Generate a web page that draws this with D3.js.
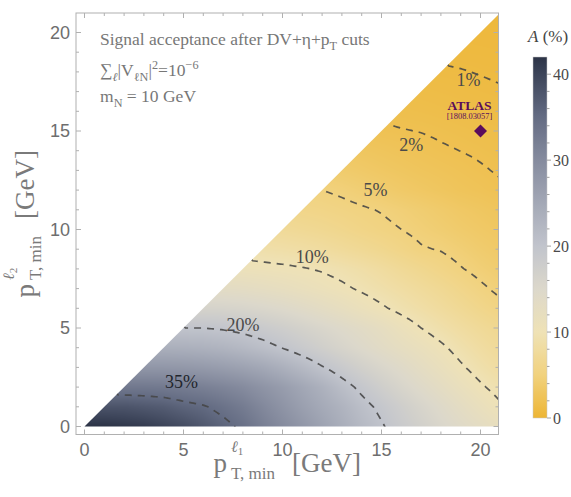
<!DOCTYPE html>
<html>
<head>
<meta charset="utf-8">
<script src="https://cdn.jsdelivr.net/npm/d3@7"></script>
<style>
  body { margin: 0; background: #fff; }
  svg { display: block; }
</style>
</head>
<body>
<svg id="chart" width="571" height="497"></svg>
<script>
// Signal acceptance A (%) on a 1 GeV grid.
// Row j holds pT2_min = j GeV, its entries run over pT1_min = j .. 21 GeV.
const acceptanceRows = [
  [42, 42, 41.5, 41, 40, 39, 37.5, 36, 34.3, 32, 30, 28, 26, 24, 22, 20.3, 18.5, 17, 15.5, 14.2, 13, 11.8],
  [38, 38, 37.5, 37, 36, 35.3, 34, 32.5, 30.5, 28.5, 26.5, 24.7, 23, 21, 19.3, 17.6, 16, 14.5, 13, 11.6, 10.3],
  [33, 33, 32.8, 32.4, 31.8, 31, 30, 28.5, 27, 25.2, 23.4, 21.2, 19.3, 17.5, 15.9, 14.4, 13, 11.6, 10.3, 9.2],
  [28, 28, 27.8, 27.4, 26.8, 26, 25, 23.6, 22, 20.2, 18.6, 17, 15.6, 14.3, 12.9, 11.6, 10.3, 9.1, 8.1],
  [23.7, 23.6, 23.3, 22.8, 22, 21, 19.9, 18.6, 17.3, 16, 14.8, 13.6, 12.5, 11.5, 10.4, 9.2, 8.2, 7.3],
  [20, 20, 19.7, 19.2, 18.5, 17.6, 16.6, 15.6, 14.6, 13.6, 12.5, 11.2, 10, 9, 8.1, 7.3, 6.6],
  [16.3, 16.2, 15.9, 15.4, 14.8, 14, 13.1, 12.2, 11.2, 10.3, 9.4, 8.6, 7.8, 7, 6.2, 5.45],
  [13.3, 13.1, 12.7, 12.2, 11.6, 11, 10.4, 9.7, 9, 8.3, 7.6, 6.9, 6.1, 5.3, 4.6],
  [10.8, 10.6, 10.4, 10.15, 9.8, 9.3, 8.7, 8.0, 7.2, 6.5, 5.8, 5.1, 4.5, 4.0],
  [8.9, 8.7, 8.4, 8.0, 7.5, 7.0, 6.45, 5.8, 5.15, 4.9, 4.4, 3.9, 3.5],
  [7.3, 7.0, 6.7, 6.3, 5.8, 5.4, 5.0, 4.55, 4.15, 3.75, 3.4, 3.1],
  [6.0, 5.8, 5.5, 5.2, 4.9, 4.5, 4.1, 3.7, 3.3, 3.0, 2.7],
  [5.0, 4.7, 4.3, 3.9, 3.5, 3.2, 2.9, 2.6, 2.4, 2.15],
  [3.8, 3.5, 3.2, 2.95, 2.7, 2.5, 2.3, 2.1, 1.9],
  [2.9, 2.7, 2.5, 2.3, 2.12, 1.99, 1.85, 1.7],
  [2.15, 2.05, 1.97, 1.85, 1.72, 1.6, 1.5],
  [1.7, 1.62, 1.52, 1.42, 1.33, 1.25],
  [1.35, 1.28, 1.2, 1.12, 1.05],
  [1.07, 1.03, 0.97, 0.92],
  [0.85, 0.82, 0.78],
  [0.68, 0.66],
  [0.55]
];

// Contour levels (%) and where their labels sit (pT1, pT2 in GeV)
const contourLevels = [1, 2, 5, 10, 20, 35];
const contourLabels = ["1%", "2%", "5%", "10%", "20%", "35%"];
const labelPT1 = [19.4, 16.5, 14.7, 11.5, 8.0, 4.9];
const labelPT2 = [17.6, 14.3, 12.0, 8.6, 5.15, 2.25];

// ATLAS benchmark cut point
const atlasPoint = { pt1: 20, pt2: 15, name: "ATLAS", ref: "[1808.03057]" };

// Axis ticks
const axisTicks = [0, 5, 10, 15, 20];
const colorbarTicks = [0, 10, 20, 30, 40];

// Colour map stops: acceptance value -> colour
const paletteValues = [0, 5, 10, 15, 20, 25, 30, 35, 40, 42];
const paletteColors = ["#edb534", "#f1d27e", "#efe2b6", "#dcd8cb", "#c1c4cc", "#a3a8b6", "#858b9e", "#646c83", "#3c4459", "#2c3346"];

// ---------------------------------------------------------------------------
const SERIF = "'Liberation Serif', 'Times New Roman', serif";
const SANS = "'Liberation Sans', Arial, sans-serif";

const svg = d3.select("#chart");
const frame = { left: 76, right: 498.5, top: 13, bottom: 434.5 };

const xs = d3.scaleLinear().domain([0, 20]).range([84.5, 480.5]);
const ys = d3.scaleLinear().domain([0, 20]).range([426.5, 32.5]);
const color = d3.scaleLinear().domain(paletteValues).range(paletteColors).interpolate(d3.interpolateRgb).clamp(true);

const pMax = 21;
function gridValue(i, j) { return acceptanceRows[j][i - j]; }
function acceptanceAt(x, y) {
  x = Math.max(0, Math.min(pMax, x));
  y = Math.max(0, Math.min(pMax, y));
  if (y > x) y = x;
  const i = Math.min(pMax - 1, Math.floor(x));
  const j = Math.min(pMax - 1, Math.floor(y));
  const fx = x - i, fy = y - j;
  const a00 = gridValue(i, j), a10 = gridValue(i + 1, j), a11 = gridValue(i + 1, j + 1);
  if (i === j) {
    // cell cut by the diagonal: linear over its lower triangle
    return a00 + fx * (a10 - a00) + fy * (a11 - a10);
  }
  const a01 = gridValue(i, j + 1);
  return a00 * (1 - fx) * (1 - fy) + a10 * fx * (1 - fy) + a01 * (1 - fx) * fy + a11 * fx * fy;
}

// Triangle of allowed cuts (pT2 <= pT1), clipped at the frame
const xEnd = xs.invert(frame.right);
const yEnd = ys.invert(frame.top);
const dEnd = Math.min(xEnd, yEnd);
const tri = [[0, 0], [xEnd, 0], [xEnd, dEnd], [dEnd, dEnd]];
const defs = svg.append("defs");
defs.append("clipPath").attr("id", "tri")
  .append("path")
  .attr("d", "M" + tri.map(p => [xs(p[0]), ys(p[1])].join(",")).join("L") + "Z");

// Density image
const cx0 = Math.floor(frame.left), cy0 = Math.floor(frame.top);
const cw = Math.ceil(frame.right) - cx0 + 2, ch = Math.ceil(frame.bottom) - cy0 + 2;
const canvas = document.createElement("canvas");
canvas.width = cw; canvas.height = ch;
const ctx = canvas.getContext("2d");
const img = ctx.createImageData(cw, ch);
for (let py = 0; py < ch; py++) {
  const yv = ys.invert(cy0 + py + 0.5);
  for (let px = 0; px < cw; px++) {
    const xv = xs.invert(cx0 + px + 0.5);
    const c = d3.rgb(color(acceptanceAt(xv, yv)));
    const k = (py * cw + px) * 4;
    img.data[k] = c.r; img.data[k + 1] = c.g; img.data[k + 2] = c.b; img.data[k + 3] = 255;
  }
}
ctx.putImageData(img, 0, 0);
svg.append("image")
  .attr("x", cx0).attr("y", cy0).attr("width", cw).attr("height", ch)
  .attr("href", canvas.toDataURL())
  .attr("clip-path", "url(#tri)");

// Contours
const step = 0.1, g0 = -1, n = Math.round((pMax + 2 - g0) / step) + 1;
const field = new Float64Array(n * n);
for (let l = 0; l < n; l++) for (let k = 0; k < n; k++) field[l * n + k] = acceptanceAt(g0 + k * step, g0 + l * step);
const contours = d3.contours().size([n, n]).thresholds(contourLevels)(field);
const toPx = d3.geoTransform({
  point(cx, cy) { this.stream.point(xs(g0 + (cx - 0.5) * step), ys(g0 + (cy - 0.5) * step)); }
});
const contourPath = d3.geoPath(toPx);
svg.append("g").attr("clip-path", "url(#tri)")
  .selectAll("path").data(contours).join("path")
  .attr("d", contourPath)
  .attr("fill", "none")
  .attr("stroke", "#454545")
  .attr("stroke-opacity", 0.88)
  .attr("stroke-width", 1.7)
  .attr("stroke-dasharray", "7,6");

// Contour labels
svg.append("g").selectAll("text").data(contourLabels).join("text")
  .attr("x", (d, i) => xs(labelPT1[i]))
  .attr("y", (d, i) => ys(labelPT2[i]))
  .attr("text-anchor", "middle")
  .attr("dominant-baseline", "central")
  .style("font-family", SERIF)
  .attr("font-size", 18)
  .attr("fill", (d, i) => i === 5 ? "#22252c" : "#4a4a4a")
  .text(d => d);

// Frame with ticks
const axisColor = "#b0b0b0";
const fr = svg.append("g").attr("stroke", axisColor).attr("fill", "none");
fr.append("rect").attr("x", frame.left).attr("y", frame.top)
  .attr("width", frame.right - frame.left).attr("height", frame.bottom - frame.top)
  .attr("stroke-width", 1);
d3.range(0, 21).forEach(v => {
  const len = v % 5 === 0 ? 5 : 3;
  const x = xs(v), y = ys(v);
  if (x < frame.right) {
    fr.append("line").attr("x1", x).attr("x2", x).attr("y1", frame.bottom).attr("y2", frame.bottom - len);
    fr.append("line").attr("x1", x).attr("x2", x).attr("y1", frame.top).attr("y2", frame.top + len);
  }
  if (y > frame.top) {
    fr.append("line").attr("y1", y).attr("y2", y).attr("x1", frame.left).attr("x2", frame.left + len);
    fr.append("line").attr("y1", y).attr("y2", y).attr("x1", frame.right).attr("x2", frame.right - len);
  }
});

svg.append("g").selectAll("text").data(axisTicks).join("text")
  .attr("x", d => xs(d)).attr("y", 456)
  .attr("text-anchor", "middle")
  .style("font-family", SANS).attr("font-size", 18).attr("fill", "#6e6e6e")
  .text(d => d);
svg.append("g").selectAll("text").data(axisTicks).join("text")
  .attr("x", 70).attr("y", d => ys(d))
  .attr("text-anchor", "end").attr("dominant-baseline", "central")
  .style("font-family", SANS).attr("font-size", 18).attr("fill", "#6e6e6e")
  .text(d => d);

// Rich text helper: parts are [text, mode, style] with mode "", "sub" or "sup"
function rich(g, parts, size, opts = {}) {
  const t = g.append("text")
    .style("font-family", opts.family || SERIF)
    .attr("font-size", size)
    .attr("fill", opts.fill || "#777");
  let shift = 0;
  parts.forEach(([s, mode, st]) => {
    const target = mode === "sub" ? size * 0.3 : mode === "sup" ? -size * 0.38 : 0;
    t.append("tspan")
      .attr("dy", target - shift)
      .attr("font-size", mode ? size * 0.7 : size)
      .attr("font-style", st || null)
      .text(s);
    shift = target;
  });
  return t;
}

// Annotation block
const note = svg.append("g");
rich(note, [["Signal acceptance after DV+η+p"], ["T", "sub"], ["\u00a0cuts"]], 17.5).attr("x", 100).attr("y", 45);
rich(note, [["∑"], ["ℓ", "sub", "italic"], ["|V"], ["ℓN", "sub"], ["|"], ["2", "sup"], ["=10"], ["−6", "sup"]], 17.5).attr("x", 100).attr("y", 76);
rich(note, [["m"], ["N", "sub"], ["\u00a0= 10 GeV"]], 17.5).attr("x", 100).attr("y", 102);

// Axis titles: base letter with stacked sub/superscripts and a unit,
// laid out from x = 0 and returned with their total width
function stackedLabel(g, sup, sub, tail) {
  const fill = "#7a7a7a", size = 27;
  const p = g.append("text").style("font-family", SERIF).attr("font-size", size).attr("fill", fill).text("p");
  const pw = p.node().getComputedTextLength();
  const sx = pw + 4;
  const sp = g.append("text").style("font-family", SERIF).attr("font-size", 16).attr("fill", fill)
    .attr("x", sx).attr("y", -20);
  sp.append("tspan").text("ℓ").attr("font-style", "italic");
  sp.append("tspan").text(sup).attr("font-size", 11).attr("dy", 3);
  const sb = g.append("text").style("font-family", SERIF).attr("font-size", 17).attr("fill", fill)
    .attr("x", sx).attr("y", 6.5).text(sub);
  const w = sx + Math.max(sp.node().getComputedTextLength(), sb.node().getComputedTextLength()) + 17;
  const tl = g.append("text").style("font-family", SERIF).attr("font-size", size).attr("fill", fill)
    .attr("x", w).text(tail);
  return w + tl.node().getComputedTextLength();
}
const xt = svg.append("g");
const xw = stackedLabel(xt, "1", "T, min", "[GeV]");
xt.attr("transform", `translate(${(frame.left + frame.right) / 2 - xw / 2},472)`);
const yt = svg.append("g");
const yw = stackedLabel(yt, "2", "T, min", "[GeV]");
yt.attr("transform", `translate(34,${(frame.top + frame.bottom) / 2 + yw / 2}) rotate(-90)`);

// ATLAS benchmark
const ax = xs(atlasPoint.pt1), ay = ys(atlasPoint.pt2);
svg.append("path")
  .attr("d", `M${ax},${ay - 6.5}L${ax + 6.5},${ay}L${ax},${ay + 6.5}L${ax - 6.5},${ay}Z`)
  .attr("fill", "#5a0c5c");
svg.append("text").attr("x", ax - 11).attr("y", ay - 21)
  .attr("text-anchor", "middle").style("font-family", SERIF)
  .attr("font-weight", "bold").attr("font-size", 13.5).attr("fill", "#5a0c5c")
  .text(atlasPoint.name);
svg.append("text").attr("x", ax - 11).attr("y", ay - 12)
  .attr("text-anchor", "middle").style("font-family", SERIF)
  .attr("font-size", 8.4).attr("fill", "#5a0c5c")
  .text(atlasPoint.ref);

// Colour bar
const cb = { x: 533, w: 14, top: 57, bottom: 418, max: 42 };
const cbs = d3.scaleLinear().domain([0, cb.max]).range([cb.bottom, cb.top]);
const grad = defs.append("linearGradient").attr("id", "cbar")
  .attr("x1", 0).attr("x2", 0).attr("y1", 1).attr("y2", 0);
d3.range(0, 43).forEach(v => {
  grad.append("stop").attr("offset", v / cb.max).attr("stop-color", color(v));
});
svg.append("rect").attr("x", cb.x).attr("y", cb.top).attr("width", cb.w).attr("height", cb.bottom - cb.top)
  .attr("fill", "url(#cbar)").attr("stroke", "#c8c8c8").attr("stroke-width", 0.5);
const cbt = svg.append("g").attr("stroke", "#a0a0a0");
d3.range(0, 42, 2).forEach(v => {
  const len = v % 10 === 0 ? 4 : 2.5;
  cbt.append("line").attr("x1", cb.x + cb.w).attr("x2", cb.x + cb.w + len)
    .attr("y1", cbs(v)).attr("y2", cbs(v));
});
svg.append("g").selectAll("text").data(colorbarTicks).join("text")
  .attr("x", cb.x + cb.w + 6).attr("y", d => cbs(d))
  .attr("dominant-baseline", "central")
  .style("font-family", SERIF).attr("font-size", 16).attr("fill", "#4a4a4a")
  .text(d => d);
rich(svg, [["A", "", "italic"], ["\u00a0(%)"]], 17, { fill: "#444" }).attr("x", 528).attr("y", 42);
</script>
</body>
</html>
